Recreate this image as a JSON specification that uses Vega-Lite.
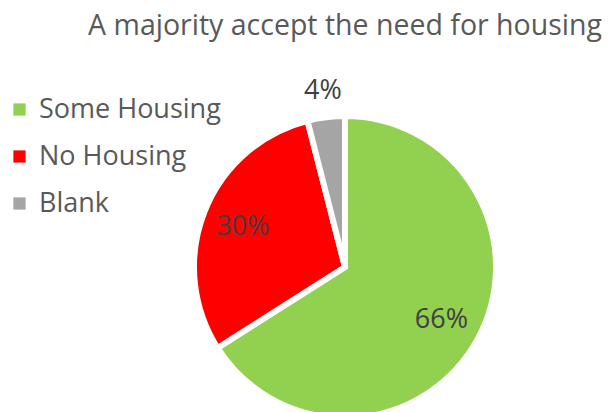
{
  "$schema": "https://vega.github.io/schema/vega-lite/v6.json",
  "autosize": "none",
  "width": 690,
  "height": 434,
  "padding": {"top": 50, "left": 0, "right": 0, "bottom": 0},
  "background": "white",
  "title": {
    "text": "A majority accept the need for housing",
    "anchor": "middle",
    "font": "Open Sans",
    "fontSize": 28.5,
    "fontWeight": "normal",
    "color": "#595959",
    "offset": 10
  },
  "data": {
    "values": [
      {"category": "Some Housing", "value": 66, "label": "66%", "order": 1},
      {"category": "No Housing", "value": 30, "label": "30%", "order": 2},
      {"category": "Blank", "value": 4, "label": "4%", "order": 3}
    ]
  },
  "encoding": {
    "theta": {"field": "value", "type": "quantitative", "stack": true},
    "order": {"field": "order", "type": "quantitative"}
  },
  "layer": [
    {
      "mark": {"type": "arc", "outerRadius": 151, "stroke": "white", "strokeWidth": 6},
      "encoding": {
        "color": {
          "field": "category",
          "type": "nominal",
          "scale": {
            "domain": ["Some Housing", "No Housing", "Blank"],
            "range": ["#92D050", "#FF0000", "#A5A5A5"]
          },
          "legend": {
            "title": null,
            "orient": "none",
            "legendX": 6,
            "legendY": 46,
            "symbolType": "square",
            "symbolSize": 150,
            "symbolStrokeWidth": 0,
            "labelFont": "Open Sans",
            "labelFontSize": 27,
            "labelColor": "#595959",
            "labelOffset": 6,
            "rowPadding": 19,
            "labelLimit": 300
          }
        }
      }
    },
    {
      "mark": {"type": "text", "radius": 110, "font": "Open Sans", "fontSize": 27, "color": "#404040"},
      "encoding": {
        "text": {"condition": {"test": "datum.value > 10", "field": "label"}, "value": ""}
      }
    },
    {
      "mark": {"type": "text", "radius": 177, "font": "Open Sans", "fontSize": 27, "color": "#404040"},
      "encoding": {
        "text": {"condition": {"test": "datum.value <= 10", "field": "label"}, "value": ""}
      }
    }
  ]
}
